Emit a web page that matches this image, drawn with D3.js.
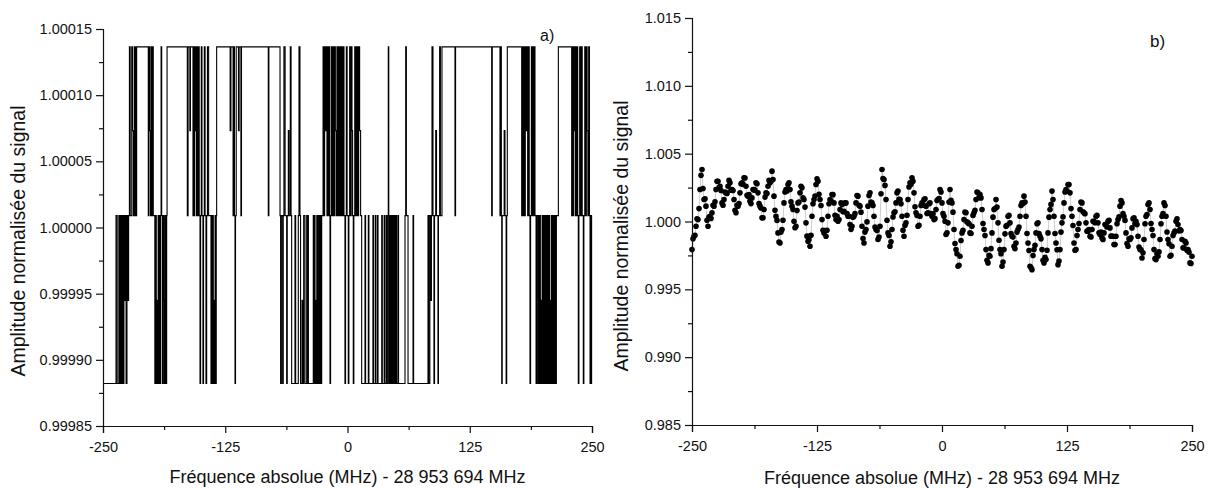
<!DOCTYPE html>
<html>
<head>
<meta charset="utf-8">
<script src="https://cdn.jsdelivr.net/npm/d3@7"></script>
<style>
  html, body { margin: 0; padding: 0; background: #fff; }
  svg { display: block; font-family: "Liberation Sans", Arial, sans-serif; }
</style>
</head>
<body>
<svg id="chart" width="1212" height="488"></svg>
<script>
// ---------------- DATA ----------------
const xTicks = [-250, -125, 0, 125, 250];
const xMinorTicks = [-187.5, -62.5, 62.5, 187.5];
const yTicksA = [0.99985, 0.99990, 0.99995, 1.00000, 1.00005, 1.00010, 1.00015];
const yMinorTicksA = [0.999875, 0.999925, 0.999975, 1.000025, 1.000075, 1.000125];
const yTicksB = [0.985, 0.990, 0.995, 1.000, 1.005, 1.010, 1.015];
const yMinorTicksB = [0.9875, 0.9925, 0.9975, 1.0025, 1.0075, 1.0125];

// Panel a: quantised amplitude levels of the signal
const ampLevelsA = [0.9998821, 0.9999449, 1.0000090, 1.0000732, 1.0001365];
// Panel a: [frequency (MHz), level index] at every step of the signal
const stepsA = [
[-250,0],[-236.7,2],[-235.5,0],[-233.8,2],[-233.0,0],[-232.3,2],[-231.6,0],[-231.0,2],[-230.4,0],[-229.8,2],[-229.2,0],[-228.6,2],[-228.0,1],[-227.2,2],[-226.4,0],[-225.5,2],[-224.6,1],[-223.8,2],[-223.0,4],[-222.2,2],[-220.6,4],[-219.8,3],[-219.0,2],[-218.0,4],[-217.4,2],[-216.8,4],[-216.2,2],[-215.6,4],
[-203.7,2],[-203.0,4],[-202.2,3],[-201.4,2],[-200.8,4],[-200.0,2],[-199.3,4],[-198.6,2],[-197.0,0],[-196.2,2],[-195.5,0],[-194.8,1],[-194.2,0],[-193.6,2],[-193.0,0],[-192.4,2],[-191.8,0],[-191.2,2],[-190.6,4],[-190.0,2],[-189.4,0],[-188.8,2],[-188.2,1],[-187.6,0],[-187.0,2],[-186.4,0],[-185.8,2],[-185.2,0],[-184.9,2],[-184.5,4],
[-163.8,2],[-163.0,4],[-161.2,3],[-160.6,4],[-158.0,2],[-157.4,4],[-156.8,2],[-156.2,4],[-155.6,3],[-155.0,4],[-154.4,2],[-153.8,4],[-153.0,2],[-152.4,4],[-151.6,2],[-150.8,0],[-150.2,2],[-149.5,4],[-148.8,2],[-147.8,0],[-147.2,2],[-146.4,4],[-145.6,2],[-144.7,0],[-144.0,2],[-143.2,4],[-142.0,2],[-139.6,0],[-139.0,2],[-138.4,0],[-137.8,2],[-137.2,0],[-136.6,1],[-136.0,0],[-135.4,2],[-134.8,0],[-134.2,2],[-133.8,4],
[-120.0,3],[-119.2,4],[-117.0,2],[-116.3,4],[-115.6,2],[-115.0,0],[-114.5,2],[-113.8,4],[-111.5,3],[-110.8,4],[-109.0,2],[-108.4,4],
[-81.0,2],[-80.4,4],
[-69.0,2],[-68.4,0],[-67.6,2],[-66.3,0],[-65.7,2],[-65.0,4],[-63.8,2],[-62.2,0],[-61.6,2],[-60.5,3],[-59.8,2],[-58.5,4],[-57.7,2],[-57.1,0],
[-53.7,2],[-53.0,0],[-50.3,2],[-49.6,4],[-48.6,2],[-48.0,0],[-46.5,1],[-45.5,0],[-44.8,2],[-43.5,0],[-41.7,2],[-41.2,0],[-40.6,2],[-40.0,0],
[-35.0,2],[-34.4,0],[-33.8,2],[-33.2,0],[-32.6,1],[-32.0,0],[-31.4,2],[-30.8,0],[-30.2,2],[-29.6,0],[-29.0,2],[-28.4,0],[-27.8,2],[-27.2,0],[-26.4,2],
[-25.0,4],[-24.2,2],[-23.4,4],[-22.6,3],[-21.8,4],[-21.0,2],[-20.2,4],[-19.4,2],[-18.6,4],[-18.2,2],[-17.9,0],[-17.3,2],[-16.5,4],[-15.7,2],[-14.9,4],[-14.0,2],[-13.2,4],[-12.4,3],[-11.6,2],[-10.8,4],[-10.0,2],[-9.2,4],[-8.4,2],[-7.6,4],[-6.8,2],[-6.0,4],[-5.2,2],[-4.4,4],[-3.6,2],[-2.6,0],[-2.0,2],[-1.2,4],[-0.4,2],[0.8,0],[1.4,2],[2.2,4],[3.0,2],[3.8,4],[4.6,3],[5.2,2],[5.9,0],[6.5,2],[7.4,4],[8.4,2],[9.4,4],[10.4,2],[11.4,4],[12.4,3],[13.4,2],[14.5,0],
[17.9,2],[18.5,0],[21.3,2],[21.9,0],[26.0,2],[26.6,0],[28.4,2],[29.0,0],[30.6,2],[31.2,0],[35.0,2],[35.6,0],[37.5,2],[38.1,0],[39.6,2],[40.2,0],[41.4,2],[41.7,4],[42.2,2],[42.6,0],[43.2,2],[43.8,0],[44.4,2],[45.0,0],[45.6,2],[46.2,0],[46.8,2],[47.4,0],[48.0,2],[48.6,0],[49.6,2],[50.2,0],[51.6,2],[52.2,0],
[58.8,2],[59.5,4],[60.2,2],[61.9,0],[67.0,2],[67.6,0],
[82.3,2],[83.0,0],[84.2,2],[85.0,1],[85.8,2],[86.4,4],[87.4,2],[88.4,0],[89.0,2],[90.2,3],[91.0,2],[92.5,0],[93.0,2],[94.2,4],[95.0,2],[96.6,4],
[109.9,2],[110.5,4],[147.4,2],[148.0,4],[155.9,2],[156.6,4],[157.3,2],[157.7,0],[158.2,2],[160.2,3],[161.0,2],[162.2,0],[162.8,2],[163.4,4],
[178.1,2],[178.8,4],[179.5,2],[180.2,4],[181.0,2],[181.8,4],[182.6,3],[183.4,4],[184.2,2],[185.0,4],[185.8,2],[186.6,0],[187.2,2],[188.0,4],[188.8,2],[189.6,4],[190.4,2],[191.0,4],[191.7,2],
[192.8,0],[193.6,2],[194.8,0],[195.4,2],[196.0,0],[196.6,2],[197.2,0],[197.8,1],[198.4,0],[199.0,2],[199.6,0],[200.2,2],[200.8,0],[201.4,2],[202.0,0],[202.6,2],[203.2,0],[203.8,2],[204.4,0],[205.0,2],[205.6,0],[206.2,2],[206.8,0],[207.4,1],[208.0,0],[208.6,2],[209.2,0],[209.8,2],[210.4,0],[211.0,2],[211.6,0],[212.2,2],[213.0,0],[213.6,2],[215.6,4],
[229.2,2],[229.8,4],[230.4,2],[231.0,4],[231.6,3],[232.2,4],[232.8,2],[233.4,4],[234.0,2],[234.6,4],[235.4,2],[236.0,0],[236.6,2],[237.4,4],[238.2,2],[239.0,4],[240.0,2],[241.1,0],[241.7,2],[242.6,4],[243.4,2],[244.2,4],[245.0,3],[245.8,2],[246.6,4],[247.4,2],[248.0,0],[248.6,2],[249.2,0],[249.6,2],[250,2]
];

// Panel b: samples on even frequencies (-250 ... 250 MHz)
const freqB = d3.range(-250, 251, 2);
const ampB = [
0.99793,0.99891,0.99965,1.00014,1.00236,1.00383,1.00162,1.00113,0.99965,1.00039,
1.00064,1.00113,1.00236,1.00297,1.00260,1.00137,1.00162,1.00211,1.00260,1.00285,
1.00236,1.00162,1.00064,1.00113,1.00211,1.00285,1.00322,1.00260,1.00187,1.00150,
1.00174,1.00236,1.00285,1.00211,1.00113,1.00027,1.00088,1.00211,1.00260,1.00285,
1.00371,1.00187,1.00039,0.99916,0.99842,0.99941,1.00137,1.00236,1.00273,1.00236,
1.00113,1.00002,0.99965,1.00137,1.00211,1.00248,1.00162,0.99990,0.99854,0.99818,
1.00039,1.00162,1.00273,1.00297,1.00162,1.00014,0.99916,0.99891,1.00039,1.00162,
1.00199,1.00137,1.00014,1.00002,1.00088,1.00125,1.00076,1.00137,1.00039,0.99978,
0.99965,1.00039,1.00137,1.00187,1.00113,0.99965,0.99842,0.99941,1.00113,1.00211,
1.00137,1.00039,0.99941,0.99867,0.99965,1.00383,1.00310,1.00162,0.99916,0.99818,
0.99941,1.00064,1.00137,1.00224,1.00162,1.00039,0.99891,0.99990,1.00162,1.00285,
1.00322,1.00211,1.00064,0.99965,1.00039,1.00137,1.00162,1.00113,1.00064,1.00137,
1.00039,1.00014,1.00088,1.00162,1.00236,1.00137,1.00039,0.99904,0.99990,1.00236,
1.00137,0.99941,0.99793,0.99670,0.99744,0.99916,1.00014,1.00064,0.99990,0.99916,
0.99965,1.00064,1.00162,1.00211,1.00199,1.00088,0.99941,0.99793,0.99695,0.99744,
0.99916,1.00088,1.00162,0.99990,0.99793,0.99670,0.99793,0.99965,1.00039,0.99990,
0.99891,0.99818,0.99842,0.99941,1.00039,1.00137,1.00187,1.00039,0.99842,0.99670,
0.99645,0.99793,0.99916,0.99990,0.99891,0.99793,0.99695,0.99719,0.99916,1.00088,
1.00224,1.00039,0.99842,0.99682,0.99793,0.99990,1.00137,1.00236,1.00273,1.00211,
1.00039,0.99842,0.99793,0.99941,1.00088,1.00137,1.00064,0.99990,0.99928,0.99891,
0.99941,1.00002,1.00039,0.99990,0.99904,0.99879,0.99916,0.99978,1.00002,0.99953,
0.99891,0.99830,0.99891,1.00014,1.00113,1.00137,1.00039,0.99916,0.99818,0.99867,
0.99953,1.00027,1.00002,0.99891,0.99793,0.99731,0.99867,1.00039,1.00125,1.00088,
0.99941,0.99793,0.99719,0.99744,0.99867,1.00039,1.00137,1.00039,0.99867,0.99744,
0.99818,0.99916,1.00002,0.99978,0.99941,0.99867,0.99805,0.99842,0.99793,0.99695,
0.99744
];
// Panel b: samples on odd frequencies (-249 ... 249 MHz)
const freqBOdd = d3.range(-249, 250, 2);
const ampBOdd = [
0.99872,0.99898,1.00020,1.00095,1.00340,1.00243,1.00168,1.00009,1.00032,1.00022,
1.00119,1.00145,1.00297,1.00249,1.00229,1.00120,1.00217,1.00206,1.00303,1.00231,
1.00229,1.00083,1.00119,1.00132,1.00278,1.00274,1.00321,1.00194,1.00199,1.00132,
1.00235,1.00231,1.00278,1.00132,1.00100,1.00028,1.00180,1.00206,1.00303,1.00298,
1.00309,1.00083,1.00008,0.99849,0.99922,1.00009,1.00217,1.00225,1.00285,1.00145,
1.00088,0.99954,1.00081,1.00144,1.00260,1.00175,1.00106,0.99892,0.99866,0.99899,
1.00131,1.00188,1.00315,1.00200,1.00118,0.99935,0.99934,0.99935,1.00131,1.00151,
1.00198,1.00046,1.00038,1.00015,1.00137,1.00071,1.00137,1.00058,1.00039,0.99942,
1.00032,1.00058,1.00192,1.00120,1.00069,0.99874,0.99922,0.99997,1.00192,1.00144,
1.00118,0.99960,0.99934,0.99886,1.00204,1.00317,1.00266,1.00009,0.99897,0.99850,
1.00033,1.00071,1.00211,1.00163,1.00131,0.99935,0.99971,1.00046,1.00254,1.00274,
1.00297,1.00108,1.00045,0.99972,1.00118,1.00120,1.00168,1.00059,1.00131,1.00058,
1.00057,1.00021,1.00155,1.00169,1.00217,1.00058,1.00002,0.99917,1.00143,1.00157,
1.00069,0.99837,0.99762,0.99677,0.99860,0.99935,1.00069,0.99997,0.99983,0.99911,
1.00045,1.00083,1.00217,1.00175,1.00174,0.99985,0.99897,0.99714,0.99750,0.99800,
1.00032,1.00095,1.00106,0.99862,0.99762,0.99702,0.99909,0.99972,1.00045,0.99911,
0.99885,0.99800,0.99922,0.99960,1.00118,1.00132,1.00143,0.99911,0.99786,0.99660,
0.99749,0.99825,0.99983,0.99911,0.99872,0.99714,0.99737,0.99788,1.00032,1.00126,
1.00162,0.99911,0.99792,0.99708,0.99922,1.00034,1.00217,1.00225,1.00272,1.00095,
0.99971,0.99788,0.99897,0.99985,1.00143,1.00071,1.00057,0.99929,0.99940,0.99886,
1.00002,0.99991,1.00045,0.99917,0.99922,0.99868,0.99977,0.99960,1.00008,0.99892,
0.99891,0.99831,0.99983,1.00034,1.00155,1.00058,1.00008,0.99837,0.99873,0.99880,
1.00020,0.99985,0.99977,0.99812,0.99792,0.99769,0.99983,1.00052,1.00137,0.99985,
0.99897,0.99726,0.99762,0.99776,0.99983,1.00058,1.00118,0.99923,0.99836,0.99751,
0.99897,0.99929,1.00020,0.99930,0.99934,0.99806,0.99854,0.99788,0.99774,0.99690
];

const yTitle = "Amplitude normalisée du signal";
const xTitle = "Fréquence absolue (MHz) - 28 953 694 MHz";

// ---------------- DRAW ----------------
const svg = d3.select("#chart");
const ink = "#111";

function drawAxes(g, x, y, yTicks, yMinor, fmt, cfg) {
  g.append("g").attr("transform", `translate(0,${cfg.y0})`)
    .call(d3.axisBottom(x).tickValues(xTicks).tickSize(7).tickPadding(9).tickFormat(d => String(d)));
  g.append("g").attr("transform", `translate(0,${cfg.y0})`)
    .call(d3.axisBottom(x).tickValues(xMinorTicks).tickSize(4).tickFormat(""))
    .select(".domain").remove();
  g.append("g").attr("transform", `translate(${cfg.x0},0)`)
    .call(d3.axisLeft(y).tickValues(yTicks).tickSize(7).tickPadding(4).tickFormat(d3.format(fmt)));
  g.append("g").attr("transform", `translate(${cfg.x0},0)`)
    .call(d3.axisLeft(y).tickValues(yMinor).tickSize(4).tickFormat(""))
    .select(".domain").remove();
  g.selectAll(".domain").attr("stroke", ink).attr("stroke-width", 1.2);
  g.selectAll(".tick line").attr("stroke", ink).attr("stroke-width", 1.2);
  g.selectAll(".tick text").attr("fill", ink).style("font-size", "14.5px")
    .style("font-family", '"Liberation Sans", Arial, sans-serif');
  g.append("text")
    .attr("x", (cfg.x0 + cfg.x1) / 2).attr("y", cfg.xTitleY)
    .attr("text-anchor", "middle").attr("fill", ink)
    .style("font-size", "18px").text(xTitle);
  g.append("text")
    .attr("transform", `translate(${cfg.yTitleX},${cfg.yTitleCY}) rotate(-90)`)
    .attr("text-anchor", "middle").attr("fill", ink)
    .style("font-size", "19.5px").text(yTitle);
  g.append("text")
    .attr("x", cfg.labX).attr("y", cfg.labY).attr("fill", ink)
    .style("font-size", cfg.labSize).text(cfg.lab);
}

// Panel a
const cfgA = { x0: 103, x1: 592, y0: 426, y1: 29, xTitleY: 483, yTitleX: 25, yTitleCY: 241,
  lab: "a)", labX: 540, labY: 41, labSize: "16px" };
const xA = d3.scaleLinear().domain([-250, 250]).range([cfgA.x0, cfgA.x1]);
const yA = d3.scaleLinear().domain([0.99985, 1.00015]).range([cfgA.y0, cfgA.y1]);
const gA = svg.append("g");
gA.append("path")
  .datum(stepsA)
  .attr("fill", "none").attr("stroke", "#000").attr("stroke-width", 1.1)
  .attr("d", d3.line().x(d => xA(d[0])).y(d => yA(ampLevelsA[d[1]])).curve(d3.curveStepAfter));
drawAxes(gA, xA, yA, yTicksA, yMinorTicksA, ".5f", cfgA);

// Panel b
const cfgB = { x0: 692, x1: 1192, y0: 425, y1: 18, xTitleY: 484, yTitleX: 628, yTitleCY: 236,
  lab: "b)", labX: 1150, labY: 47, labSize: "17px" };
const xB = d3.scaleLinear().domain([-250, 250]).range([cfgB.x0, cfgB.x1]);
const yB = d3.scaleLinear().domain([0.985, 1.015]).range([cfgB.y0, cfgB.y1]);
const gB = svg.append("g");
const ptsB = freqB.map((f, i) => [f, ampB[i]])
  .concat(freqBOdd.map((f, i) => [f, ampBOdd[i]]))
  .sort((a, b) => a[0] - b[0]);
gB.append("path")
  .datum(ptsB)
  .attr("fill", "none").attr("stroke", "#aaa").attr("stroke-width", 0.6)
  .attr("d", d3.line().x(d => xB(d[0])).y(d => yB(d[1])));
gB.selectAll("circle").data(ptsB).join("circle")
  .attr("cx", d => xB(d[0])).attr("cy", d => yB(d[1]))
  .attr("r", 2.8).attr("fill", "#000");
drawAxes(gB, xB, yB, yTicksB, yMinorTicksB, ".3f", cfgB);
</script>
</body>
</html>
